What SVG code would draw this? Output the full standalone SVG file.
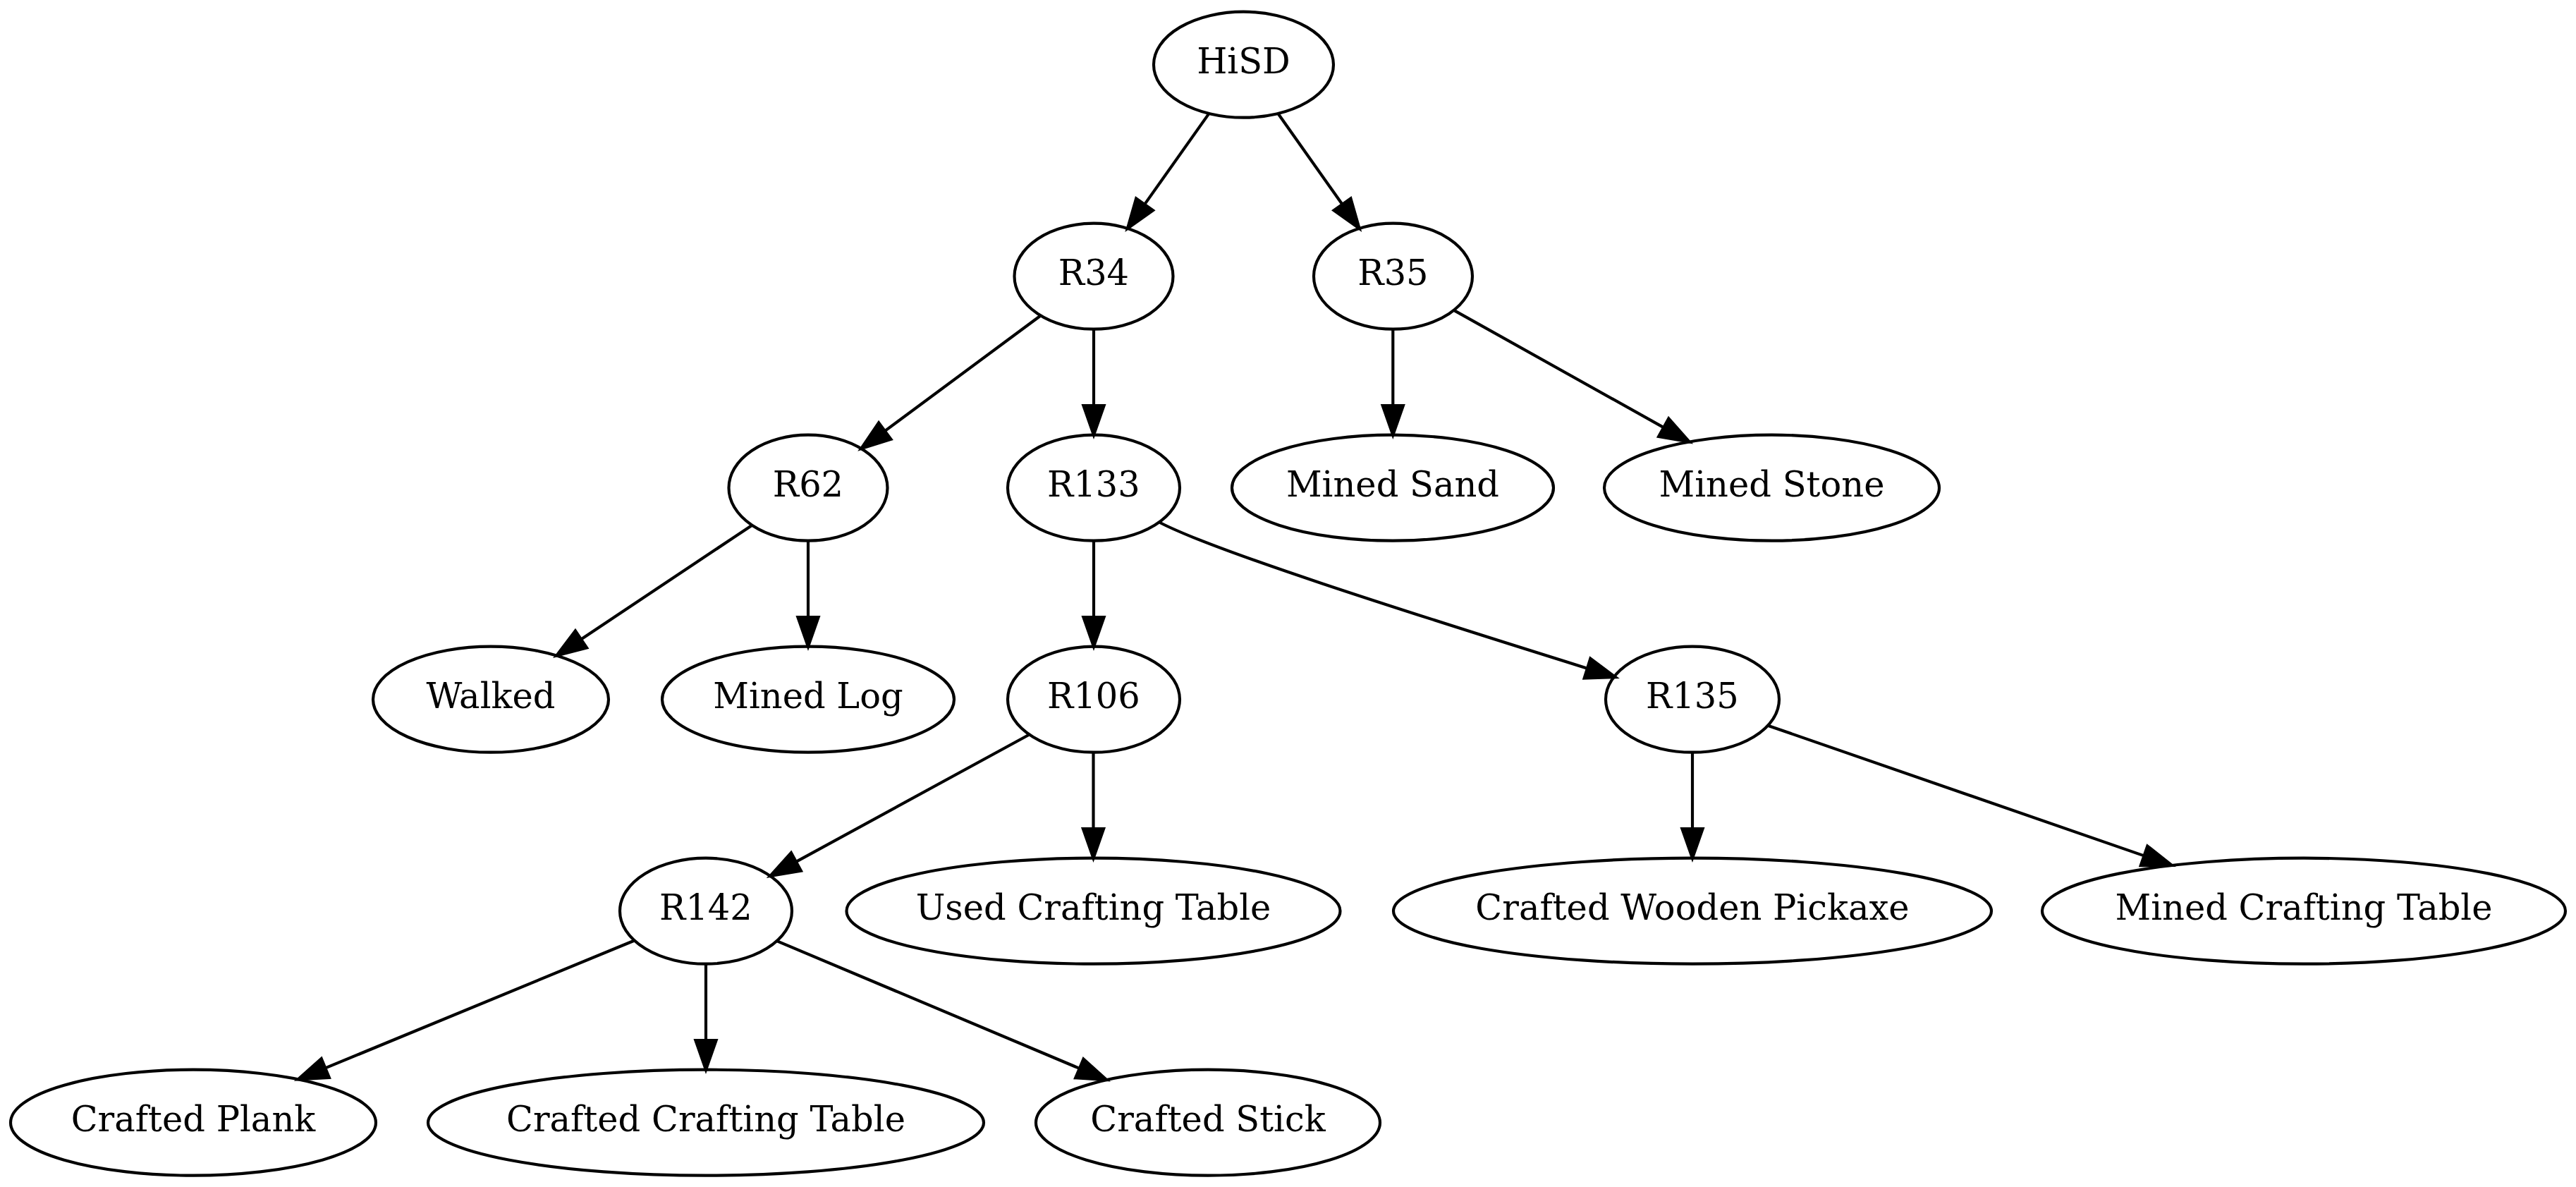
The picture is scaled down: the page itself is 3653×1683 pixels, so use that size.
<svg xmlns="http://www.w3.org/2000/svg" width="3653" height="1683" viewBox="0 0 3653 1683">
  <style>
    .node ellipse { fill: none; stroke: #000; stroke-width: 4.17; }
    .node text { font-family: "DejaVu Serif", "Liberation Serif", serif; font-size: 49.5px; text-anchor: middle; fill: #000; }
    .edge { fill: none; stroke: #000; stroke-width: 4.17; marker-end: url(#arrow); }
  </style>
  <defs>
    <marker id="arrow" markerUnits="userSpaceOnUse" markerWidth="60" markerHeight="40" refX="0" refY="0" orient="auto" overflow="visible">
      <path d="M0,-14.6 L41.7,0 L0,14.6 Z" fill="#000" stroke="#000" stroke-width="4.17"/>
    </marker>
  </defs>
  <rect width="3653" height="1683" fill="#fff"/>

  <g id="connectors">
    <path class="edge" d="M1714.5,160.9 L1623.1,289.9"/>
    <path class="edge" d="M1812.4,161.0 L1903.5,289.8"/>
    <path class="edge" d="M1475.7,447.5 L1254.8,611.1"/>
    <path class="edge" d="M1551,466.7 L1551,575.0"/>
    <path class="edge" d="M1975.3,466.7 L1975.3,575.0"/>
    <path class="edge" d="M2061.7,439.9 L2359.2,606.1"/>
    <path class="edge" d="M1066.5,744.7 L824.0,906.4"/>
    <path class="edge" d="M1146,766.7 L1146,875.0"/>
    <path class="edge" d="M1551,766.7 L1551,875.0"/>
    <path class="edge" d="M1645,741 C1720,780 1980,863 2251,947.7"/>
    <path class="edge" d="M1459.7,1041.5 L1128.9,1221.9"/>
    <path class="edge" d="M1550.5,1066.7 L1550.5,1175.0"/>
    <path class="edge" d="M2400,1066.7 L2400,1175.0"/>
    <path class="edge" d="M2507.0,1028.7 L3040.5,1213.4"/>
    <path class="edge" d="M899.7,1333.5 L461.3,1514.4"/>
    <path class="edge" d="M1001,1366.7 L1001,1475.0"/>
    <path class="edge" d="M1101.6,1334.1 L1530.8,1514.9"/>
  </g>

  <g id="HiSD" class="node"><ellipse cx="1763.5" cy="91.7" rx="127.5" ry="75"/><text x="1763.5" y="104.2">HiSD</text></g>
  <g id="R34" class="node"><ellipse cx="1551" cy="391.7" rx="112.5" ry="75"/><text x="1551" y="404.2">R34</text></g>
  <g id="R35" class="node"><ellipse cx="1975.5" cy="391.7" rx="112.5" ry="75"/><text x="1975.5" y="404.2">R35</text></g>
  <g id="R62" class="node"><ellipse cx="1146" cy="691.7" rx="112.5" ry="75"/><text x="1146" y="704.2">R62</text></g>
  <g id="R133" class="node"><ellipse cx="1551" cy="691.7" rx="122" ry="75"/><text x="1551" y="704.2">R133</text></g>
  <g id="MinedSand" class="node"><ellipse cx="1975" cy="691.7" rx="228" ry="75"/><text x="1975" y="704.2">Mined Sand</text></g>
  <g id="MinedStone" class="node"><ellipse cx="2512.5" cy="691.7" rx="237.5" ry="75"/><text x="2512.5" y="704.2">Mined Stone</text></g>
  <g id="Walked" class="node"><ellipse cx="696" cy="991.7" rx="167" ry="75"/><text x="696" y="1004.2">Walked</text></g>
  <g id="MinedLog" class="node"><ellipse cx="1146" cy="991.7" rx="207" ry="75"/><text x="1146" y="1004.2">Mined Log</text></g>
  <g id="R106" class="node"><ellipse cx="1551" cy="991.7" rx="122" ry="75"/><text x="1551" y="1004.2">R106</text></g>
  <g id="R135" class="node"><ellipse cx="2400" cy="991.7" rx="123" ry="75"/><text x="2400" y="1004.2">R135</text></g>
  <g id="R142" class="node"><ellipse cx="1001" cy="1291.7" rx="122" ry="75"/><text x="1001" y="1304.2">R142</text></g>
  <g id="UsedCraftingTable" class="node"><ellipse cx="1550.5" cy="1291.7" rx="350" ry="75"/><text x="1550.5" y="1304.2">Used Crafting Table</text></g>
  <g id="CraftedWoodenPickaxe" class="node"><ellipse cx="2400" cy="1291.7" rx="424" ry="75"/><text x="2400" y="1304.2">Crafted Wooden Pickaxe</text></g>
  <g id="MinedCraftingTable" class="node"><ellipse cx="3267" cy="1291.7" rx="371" ry="75"/><text x="3267" y="1304.2">Mined Crafting Table</text></g>
  <g id="CraftedPlank" class="node"><ellipse cx="274" cy="1591.7" rx="259" ry="75"/><text x="274" y="1604.2">Crafted Plank</text></g>
  <g id="CraftedCraftingTable" class="node"><ellipse cx="1001" cy="1591.7" rx="394" ry="75"/><text x="1001" y="1604.2">Crafted Crafting Table</text></g>
  <g id="CraftedStick" class="node"><ellipse cx="1713" cy="1591.7" rx="244" ry="75"/><text x="1713" y="1604.2">Crafted Stick</text></g>
</svg>
